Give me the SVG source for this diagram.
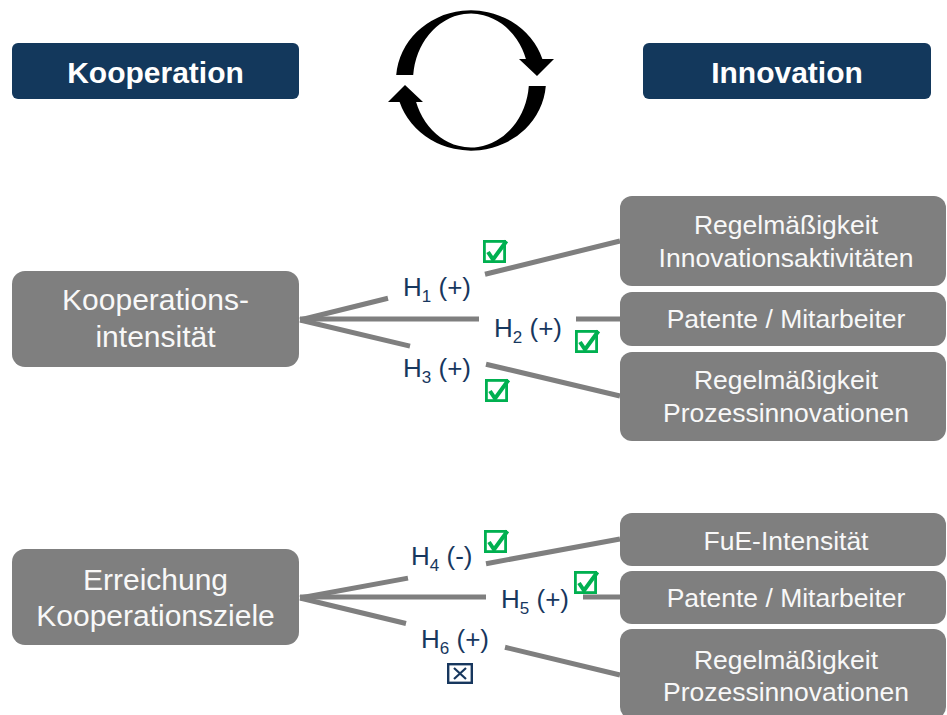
<svg xmlns="http://www.w3.org/2000/svg" xmlns:xlink="http://www.w3.org/1999/xlink" width="947" height="715" viewBox="0 0 947 715">
<style>
.hdr{fill:#13385c}
.hdrt{font-family:"Liberation Sans",Arial,sans-serif;font-size:30px;font-weight:bold;fill:#ffffff;text-anchor:middle}
.node{fill:#7f7f7f}
.lt{font-family:"Liberation Sans",Arial,sans-serif;font-size:30px;fill:#f8f8f8;text-anchor:middle}
.rt{font-family:"Liberation Sans",Arial,sans-serif;font-size:26.5px;fill:#f8f8f8;text-anchor:middle}
.conn{stroke:#7f7f7f;stroke-width:5;fill:none}
.lbl{font-family:"Liberation Sans",Arial,sans-serif;font-size:26px;fill:#17375e}
.sub{font-size:17px}
</style>
<defs>
<g id="chk">
<rect x="1.4" y="1.4" width="20.2" height="20.2" fill="none" stroke="#00b050" stroke-width="2.8"/>
<polyline points="5,12 10,19.5 23.5,1" fill="none" stroke="#00b050" stroke-width="4" stroke-linejoin="miter"/>
</g>
</defs>
<rect width="947" height="715" fill="#ffffff"/>

<g id="header-kooperation">
<rect class="hdr" x="12" y="43" width="287" height="56" rx="6"/>
<text class="hdrt" x="155.5" y="83">Kooperation</text>
</g>
<g id="header-innovation">
<rect class="hdr" x="643" y="43" width="288" height="56" rx="6"/>
<text class="hdrt" x="787" y="83">Innovation</text>
</g>

<g id="cycle" fill="#000000">
<path d="M396.2 75 A75 70 0 0 1 542.4 59 L554 59 L537 76 L519 59 L525.9 59 A58 67 0 0 0 413.2 75 Z"/>
<path d="M545.8 86 A75 70 0 0 1 399.6 102 L388 102 L405 85 L423 102 L416.1 102 A58 67 0 0 0 528.8 86 Z"/>
</g>

<g id="connectors" class="conn">
<path d="M300 320 L388 298.3 M485 274.3 L620 241"/>
<path d="M300 319 L479 319 M576 319 L620 319"/>
<path d="M300 320 L410 346.1 M486 364.2 L620 396"/>
<path d="M300 598 L408 578.1 M486 563.7 L620 539"/>
<path d="M300 597 L486 597 M583 597 L620 597"/>
<path d="M300 598 L406 623.5 M505 647.3 L620 675"/>
</g>

<g id="node-kooperationsintensitaet">
<rect class="node" x="12" y="271" width="287" height="96" rx="13"/>
<text class="lt" x="155.5" y="310">Kooperations-</text>
<text class="lt" x="155.5" y="347">intensität</text>
</g>
<g id="node-erreichung">
<rect class="node" x="12" y="549" width="287" height="96" rx="13"/>
<text class="lt" x="155.5" y="590">Erreichung</text>
<text class="lt" x="155.5" y="626">Kooperationsziele</text>
</g>

<g id="node-regel-innov">
<rect class="node" x="620" y="196" width="326" height="90" rx="12"/>
<text class="rt" x="786" y="234">Regelmäßigkeit</text>
<text class="rt" x="786" y="267">Innovationsaktivitäten</text>
</g>
<g id="node-patente-1">
<rect class="node" x="620" y="292" width="326" height="54" rx="12"/>
<text class="rt" x="786" y="328">Patente / Mitarbeiter</text>
</g>
<g id="node-regel-proz-1">
<rect class="node" x="620" y="352" width="326" height="89" rx="12"/>
<text class="rt" x="786" y="389">Regelmäßigkeit</text>
<text class="rt" x="786" y="422">Prozessinnovationen</text>
</g>
<g id="node-fue">
<rect class="node" x="620" y="513" width="326" height="53" rx="12"/>
<text class="rt" x="786" y="550">FuE-Intensität</text>
</g>
<g id="node-patente-2">
<rect class="node" x="620" y="571" width="326" height="53" rx="12"/>
<text class="rt" x="786" y="607">Patente / Mitarbeiter</text>
</g>
<g id="node-regel-proz-2">
<rect class="node" x="620" y="629" width="326" height="90" rx="12"/>
<text class="rt" x="786" y="669">Regelmäßigkeit</text>
<text class="rt" x="786" y="701">Prozessinnovationen</text>
</g>

<g id="labels">
<text class="lbl" x="403" y="296">H<tspan class="sub" dy="6">1</tspan><tspan dy="-6"> (+)</tspan></text>
<text class="lbl" x="494" y="337">H<tspan class="sub" dy="6">2</tspan><tspan dy="-6"> (+)</tspan></text>
<text class="lbl" x="403" y="377">H<tspan class="sub" dy="6">3</tspan><tspan dy="-6"> (+)</tspan></text>
<text class="lbl" x="411" y="565">H<tspan class="sub" dy="6">4</tspan><tspan dy="-6"> (-)</tspan></text>
<text class="lbl" x="501" y="608">H<tspan class="sub" dy="6">5</tspan><tspan dy="-6"> (+)</tspan></text>
<text class="lbl" x="421" y="648">H<tspan class="sub" dy="6">6</tspan><tspan dy="-6"> (+)</tspan></text>
</g>

<g id="marks">
<use xlink:href="#chk" x="483" y="240"/>
<use xlink:href="#chk" x="575" y="330"/>
<use xlink:href="#chk" x="485" y="379"/>
<use xlink:href="#chk" x="484" y="530"/>
<use xlink:href="#chk" x="574" y="571"/>
<g id="xbox" fill="none" stroke="#17375e">
<rect x="448.2" y="664.2" width="23.6" height="18.6" stroke-width="2.4"/>
<path d="M454 668 L466 679 M466 668 L454 679" stroke-width="2.2"/>
</g>
</g>
</svg>
